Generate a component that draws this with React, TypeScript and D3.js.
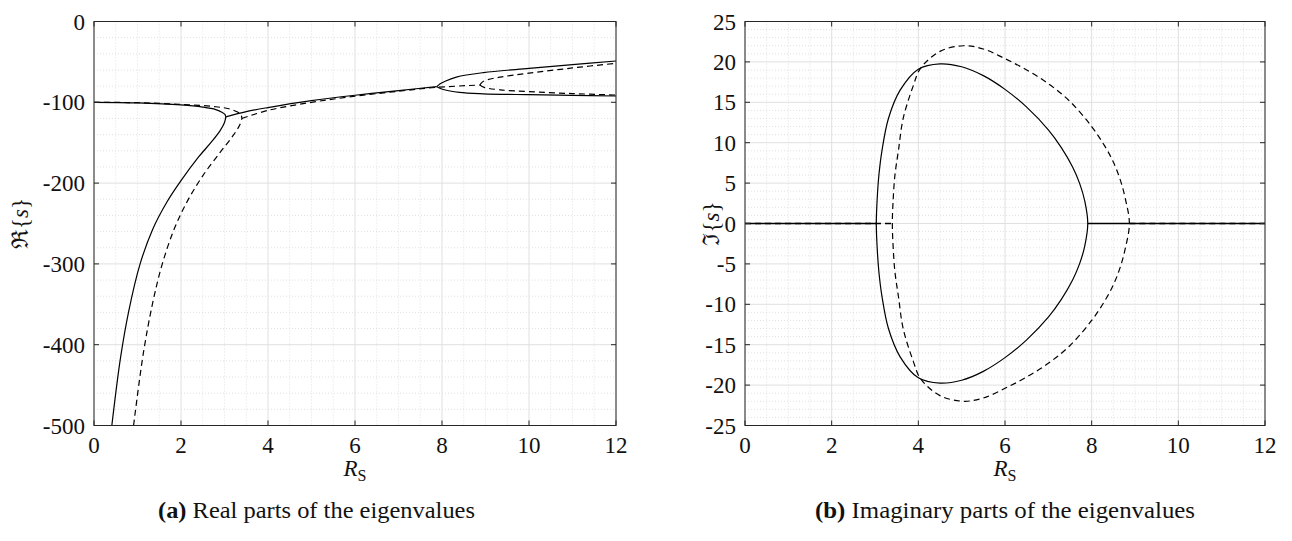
import React from "react";
import * as d3 from "d3";

type P = [number, number];

// ---- data ----
const xTicks = [0, 2, 4, 6, 8, 10, 12];
const realYTicks = [0, -100, -200, -300, -400, -500];
const imagYTicks = [25, 20, 15, 10, 5, 0, -5, -10, -15, -20, -25];

// Real parts (solid = first configuration, dashed = second)
const realSolidUpperPre: P[] = [[0, -100], [1, -100.8], [2, -103.3], [2.5, -106], [2.8, -109], [2.95, -112.5], [3.01, -115], [3.03, -118]];
const realSolidLowerPre: P[] = [[0.41, -500], [0.61, -416], [0.8, -358], [1.06, -300], [1.35, -257], [1.67, -224], [2.0, -197], [2.4, -168], [2.7, -149], [2.9, -135], [3.0, -125], [3.03, -118]];
const realSolidMerged: P[] = [[3.03, -118], [3.5, -111.5], [4, -106.5], [5, -98], [6, -91.3], [7, -85.5], [7.88, -80.7]];
const realSolidUp: P[] = [[7.88, -80.7], [7.95, -77.3], [8.05, -74.5], [8.33, -68.8], [8.95, -63.3], [10, -58], [11, -53.3], [12, -48.9]];
const realSolidDown: P[] = [[7.88, -80.7], [8.03, -84.2], [8.4, -87.8], [8.95, -89.5], [10, -90.6], [11, -91.4], [12, -92.2]];

const realDashUpperPre: P[] = [[0, -100], [1, -100.5], [2, -102.5], [2.8, -105.5], [3.1, -108], [3.3, -112], [3.38, -115.5], [3.4, -120]];
const realDashLowerPre: P[] = [[0.91, -500], [1.13, -412], [1.35, -348], [1.57, -300], [1.85, -256], [2.15, -222], [2.5, -191], [2.9, -162], [3.2, -141], [3.35, -128], [3.4, -120]];
const realDashMerged: P[] = [[3.4, -120], [4, -110], [5, -100], [6, -92.5], [7, -86.3], [7.88, -81.5], [8.87, -78.6]];
const realDashUp: P[] = [[8.87, -78.6], [8.92, -75.3], [9.0, -72.8], [9.34, -68.8], [10, -64], [11, -57.5], [12, -51.7]];
const realDashDown: P[] = [[8.87, -78.6], [8.97, -81.5], [9.34, -84.6], [10, -86.8], [11, -89.2], [12, -91]];

// Imaginary parts (upper halves; lower halves are the complex conjugates)
const imagSolidUpper: P[] = [[3.03, 0], [3.05, 3], [3.09, 6], [3.16, 9], [3.31, 13], [3.58, 16.5], [4.0, 19.1], [4.5, 19.76], [5.0, 19.4], [5.5, 18.3], [6.0, 16.6], [6.5, 14.4], [7.0, 11.6], [7.3, 9.4], [7.56, 7.0], [7.72, 5.0], [7.84, 2.8], [7.91, 0]];
const imagDashUpper: P[] = [[3.4, 0], [3.42, 3], [3.46, 6], [3.54, 9], [3.65, 13], [3.88, 17], [4.05, 19.2], [4.5, 21.3], [5.04, 22], [5.5, 21.6], [6.0, 20.4], [6.5, 19.0], [7.0, 17.3], [7.5, 15.1], [8.0, 12.0], [8.3, 9.6], [8.5, 7.6], [8.66, 5.4], [8.78, 3], [8.87, 0]];
const imagSolidZero: P[][] = [[[0, 0], [3.03, 0]], [[7.91, 0], [12, 0]]];
const imagDashZero: P[][] = [[[0, 0], [3.4, 0]], [[8.87, 0], [12, 0]]];

// ---- layout ----
const W = 1292, H = 541;
const FONT = "'Liberation Serif', 'DejaVu Serif', serif";
const AX = "#262626";

function conjugateLoop(upper: P[]): P[] {
  const lower = upper.slice(1, -1).reverse().map(([x, y]) => [x, -y] as P);
  return [...upper, ...lower];
}

interface PanelProps {
  left: number; right: number; top: number; bottom: number;
  yDomain: [number, number];
  yTicks: number[]; yMinorStep: number;
  ylabel: string;
  ylabelX: number;
  solid: P[][]; dashed: P[][];
  solidClosed: P[][]; dashedClosed: P[][];
  zeroWidth: number;
  caption: [string, string];
  captionX: number; captionW: number;
}

function Panel(p: PanelProps) {
  const x = d3.scaleLinear().domain([0, 12]).range([p.left, p.right]);
  const y = d3.scaleLinear().domain(p.yDomain).range([p.bottom, p.top]);
  const xMinor = d3.range(0, 12.0001, 0.5).filter((v) => Math.abs(v / 2 - Math.round(v / 2)) > 1e-6);
  const [y0, y1] = p.yDomain;
  const yMinor = d3.range(y0, y1 + 1e-6, p.yMinorStep).filter((v) => !p.yTicks.some((t) => Math.abs(t - v) < 1e-6));
  const line = d3.line<P>().x((d) => x(d[0])).y((d) => y(d[1])).curve(d3.curveCatmullRom.alpha(0.5));
  const closed = d3.line<P>().x((d) => x(d[0])).y((d) => y(d[1])).curve(d3.curveCatmullRomClosed.alpha(0.5));
  const tl = 5;
  const cx = (p.left + p.right) / 2;
  return (
    <g>
      {/* minor grid */}
      {xMinor.map((v) => (
        <line key={"xm" + v} x1={x(v)} x2={x(v)} y1={p.top} y2={p.bottom} stroke="#d4d4d4" strokeWidth={0.7} strokeDasharray="1,2" />
      ))}
      {yMinor.map((v) => (
        <line key={"ym" + v} x1={p.left} x2={p.right} y1={y(v)} y2={y(v)} stroke="#d4d4d4" strokeWidth={0.7} strokeDasharray="1,2" />
      ))}
      {/* major grid */}
      {xTicks.map((v) => (
        <line key={"xg" + v} x1={x(v)} x2={x(v)} y1={p.top} y2={p.bottom} stroke="#e0e0e0" strokeWidth={1} />
      ))}
      {p.yTicks.map((v) => (
        <line key={"yg" + v} x1={p.left} x2={p.right} y1={y(v)} y2={y(v)} stroke="#e0e0e0" strokeWidth={1} />
      ))}
      {/* curves */}
      {p.dashed.map((d, i) => (
        <path key={"d" + i} d={line(d) || ""} fill="none" stroke="#000" strokeWidth={p.zeroWidth} strokeDasharray="6,4" />
      ))}
      {p.dashedClosed.map((d, i) => (
        <path key={"dc" + i} d={closed(d) || ""} fill="none" stroke="#000" strokeWidth={1.2} strokeDasharray="6,4" />
      ))}
      {p.solid.map((d, i) => (
        <path key={"s" + i} d={line(d) || ""} fill="none" stroke="#000" strokeWidth={p.zeroWidth} />
      ))}
      {p.solidClosed.map((d, i) => (
        <path key={"sc" + i} d={closed(d) || ""} fill="none" stroke="#000" strokeWidth={1.2} />
      ))}
      {/* box */}
      <rect x={p.left} y={p.top} width={p.right - p.left} height={p.bottom - p.top} fill="none" stroke={AX} strokeWidth={1} />
      {/* ticks */}
      {xTicks.map((v) => (
        <g key={"xt" + v}>
          <line x1={x(v)} x2={x(v)} y1={p.bottom} y2={p.bottom - tl} stroke={AX} />
          <line x1={x(v)} x2={x(v)} y1={p.top} y2={p.top + tl} stroke={AX} />
          <text x={x(v)} y={p.bottom + 27} textAnchor="middle" fontFamily={FONT} fontSize={23} fill="#111">{v}</text>
        </g>
      ))}
      {p.yTicks.map((v) => (
        <g key={"yt" + v}>
          <line x1={p.left} x2={p.left + tl} y1={y(v)} y2={y(v)} stroke={AX} />
          <line x1={p.right} x2={p.right - tl} y1={y(v)} y2={y(v)} stroke={AX} />
          <text x={p.left - 9} y={y(v)} dy="0.35em" textAnchor="end" fontFamily={FONT} fontSize={23} fill="#111">{String(v)}</text>
        </g>
      ))}
      {/* axis labels */}
      <text x={cx} y={p.bottom + 50} textAnchor="middle" fontFamily={FONT} fontSize={23} fill="#111">
        <tspan fontStyle="italic">R</tspan>
        <tspan fontSize={16} dy={5}>S</tspan>
      </text>
      <text transform={`translate(${p.ylabelX},${(p.top + p.bottom) / 2}) rotate(-90)`} textAnchor="middle" dy="0.35em" fontFamily={FONT} fontSize={23} fill="#111">
        <tspan>{p.ylabel}</tspan>
        <tspan>{"{"}</tspan>
        <tspan fontStyle="italic">s</tspan>
        <tspan>{"}"}</tspan>
      </text>
      {/* caption */}
      <text x={p.captionX} y={518} textAnchor="middle" fontFamily={FONT} fontSize={23} fill="#111" textLength={p.captionW} lengthAdjust="spacingAndGlyphs">
        <tspan fontWeight="bold">{p.caption[0]}</tspan>
        <tspan>{" " + p.caption[1]}</tspan>
      </text>
    </g>
  );
}

export default function App() {
  return (
    <svg width={W} height={H} viewBox={`0 0 ${W} ${H}`} style={{ position: "absolute", left: 0, top: 0, background: "#fff" }}>
      <rect x={0} y={0} width={W} height={H} fill="#fff" />
      <Panel
        left={94} right={616} top={21.5} bottom={425.5}
        yDomain={[-500, 0]} yTicks={realYTicks} yMinorStep={20}
        ylabel="ℜ" ylabelX={20}
        solid={[realSolidUpperPre, realSolidLowerPre, realSolidMerged, realSolidUp, realSolidDown]}
        dashed={[realDashUpperPre, realDashLowerPre, realDashMerged, realDashUp, realDashDown]}
        solidClosed={[]} dashedClosed={[]}
        zeroWidth={1.2}
        caption={["(a)", "Real parts of the eigenvalues"]}
        captionX={316.5} captionW={317}
      />
      <Panel
        left={745} right={1265} top={21.5} bottom={425.5}
        yDomain={[-25, 25]} yTicks={imagYTicks} yMinorStep={1}
        ylabel="ℑ" ylabelX={711}
        solid={imagSolidZero} dashed={imagDashZero}
        solidClosed={[conjugateLoop(imagSolidUpper)]} dashedClosed={[conjugateLoop(imagDashUpper)]}
        zeroWidth={1.7}
        caption={["(b)", "Imaginary parts of the eigenvalues"]}
        captionX={1005} captionW={380}
      />
    </svg>
  );
}
